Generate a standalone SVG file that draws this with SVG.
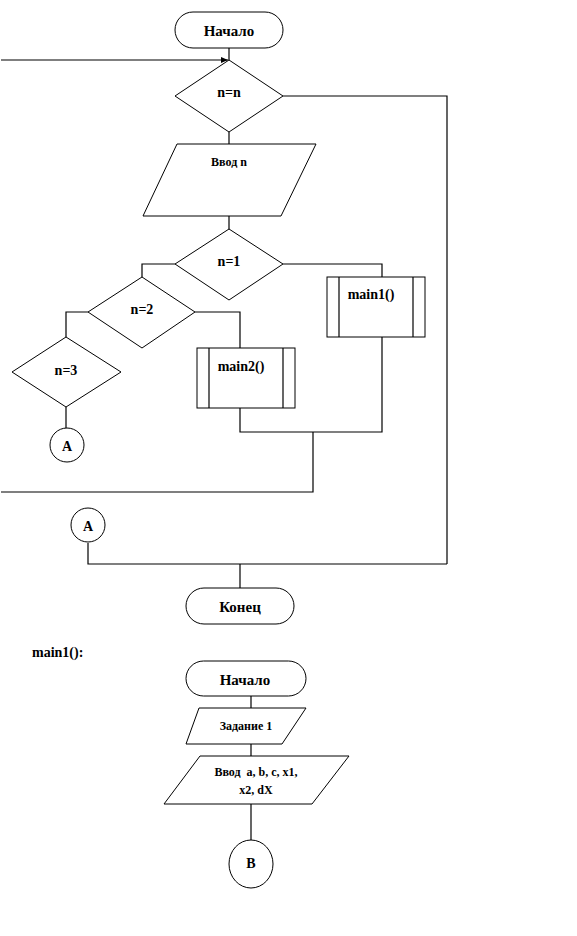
<svg xmlns="http://www.w3.org/2000/svg" width="577" height="936" viewBox="0 0 577 936">
<style>
.s{fill:#fff;stroke:#000;stroke-width:1}
.c{fill:none;stroke:#000;stroke-width:1.2}
.t{font-family:"Liberation Serif","Times New Roman",serif;font-weight:bold;fill:#000;text-anchor:middle}
</style>
<defs>
<marker id="ah" markerWidth="8" markerHeight="8" refX="7" refY="3" orient="auto" markerUnits="userSpaceOnUse">
<path d="M0,0 L7,3 L0,6 Z" fill="#000"/>
</marker>
</defs>
<rect width="577" height="936" fill="#fff"/>
<g id="connectors">
<line class="c" x1="229" y1="48" x2="229" y2="60"/>
<line class="c" x1="1" y1="60" x2="228" y2="60" marker-end="url(#ah)"/>
<polyline class="c" points="283,96 447,96 447,564"/>
<line class="c" x1="229" y1="132" x2="229" y2="144"/>
<line class="c" x1="229" y1="216" x2="229" y2="229"/>
<polyline class="c" points="175,264 142,264 142,277"/>
<polyline class="c" points="283,264 382,264 382,277"/>
<polyline class="c" points="88,312 66,312 66,337"/>
<polyline class="c" points="195,312 240,312 240,348"/>
<line class="c" x1="66" y1="407" x2="66" y2="428"/>
<polyline class="c" points="240,408 240,432 382,432 382,337"/>
<polyline class="c" points="313,432 313,492 1,492"/>
<polyline class="c" points="88,543 88,564 447,564"/>
<line class="c" x1="240" y1="564" x2="240" y2="588"/>
<line class="c" x1="251" y1="696" x2="251" y2="708"/>
<line class="c" x1="251" y1="744" x2="251" y2="756"/>
<line class="c" x1="251" y1="804" x2="251" y2="840"/>
</g>
<g id="start">
<rect class="s" x="175" y="12" width="108" height="36" rx="18" ry="18"/>
<text class="t" x="229" y="36" font-size="15">Начало</text>
</g>
<g id="cond-nn">
<polygon class="s" points="229,60 283,96 229,132 175,96"/>
<text class="t" x="229" y="97" font-size="14">n=n</text>
</g>
<g id="input-n">
<polygon class="s" points="177,144 316,144 281,216 143,216"/>
<text class="t" x="229" y="166" font-size="12">Ввод n</text>
</g>
<g id="cond-n1">
<polygon class="s" points="229,229 283,264 229,300 175,264"/>
<text class="t" x="229" y="266" font-size="14">n=1</text>
</g>
<g id="main1">
<rect class="s" x="327" y="277" width="98" height="60"/>
<line class="c" x1="339" y1="277" x2="339" y2="337"/>
<line class="c" x1="413" y1="277" x2="413" y2="337"/>
<text class="t" x="371" y="299" font-size="14">main1()</text>
</g>
<g id="cond-n2">
<polygon class="s" points="142,277 195,312 142,348 88,312"/>
<text class="t" x="142" y="314" font-size="14">n=2</text>
</g>
<g id="main2">
<rect class="s" x="197" y="348" width="98" height="60"/>
<line class="c" x1="209" y1="348" x2="209" y2="408"/>
<line class="c" x1="283" y1="348" x2="283" y2="408"/>
<text class="t" x="241" y="371" font-size="14">main2()</text>
</g>
<g id="cond-n3">
<polygon class="s" points="66,337 121,372 66,407 12,372"/>
<text class="t" x="66" y="375" font-size="14">n=3</text>
</g>
<g id="conn-a1">
<circle class="s" cx="67" cy="445" r="17"/>
<text class="t" x="67" y="451" font-size="14">A</text>
</g>
<g id="conn-a2">
<circle class="s" cx="88" cy="525" r="17"/>
<text class="t" x="88" y="531" font-size="14">A</text>
</g>
<g id="end">
<rect class="s" x="186" y="588" width="108" height="36" rx="18" ry="18"/>
<text class="t" x="240" y="612" font-size="15">Конец</text>
</g>
<g id="title-main1">
<text class="t" x="32" y="657" font-size="14" style="text-anchor:start">main1():</text>
</g>
<g id="start2">
<rect class="s" x="186" y="661" width="120" height="35" rx="17.5" ry="17.5"/>
<text class="t" x="245" y="685" font-size="15">Начало</text>
</g>
<g id="task1">
<polygon class="s" points="199,708 306,708 282,744 186,744"/>
<text class="t" x="246" y="730" font-size="12">Задание 1</text>
</g>
<g id="input-abc">
<polygon class="s" points="200,756 349,756 312,804 164,804"/>
<text class="t" x="256" y="776" font-size="12" style="white-space:pre">Ввод  a, b, c, x1,</text>
<text class="t" x="256" y="794" font-size="12">x2, dX</text>
</g>
<g id="conn-b">
<ellipse class="s" cx="251" cy="864" rx="22" ry="24"/>
<text class="t" x="251" y="868" font-size="14">B</text>
</g>
</svg>
